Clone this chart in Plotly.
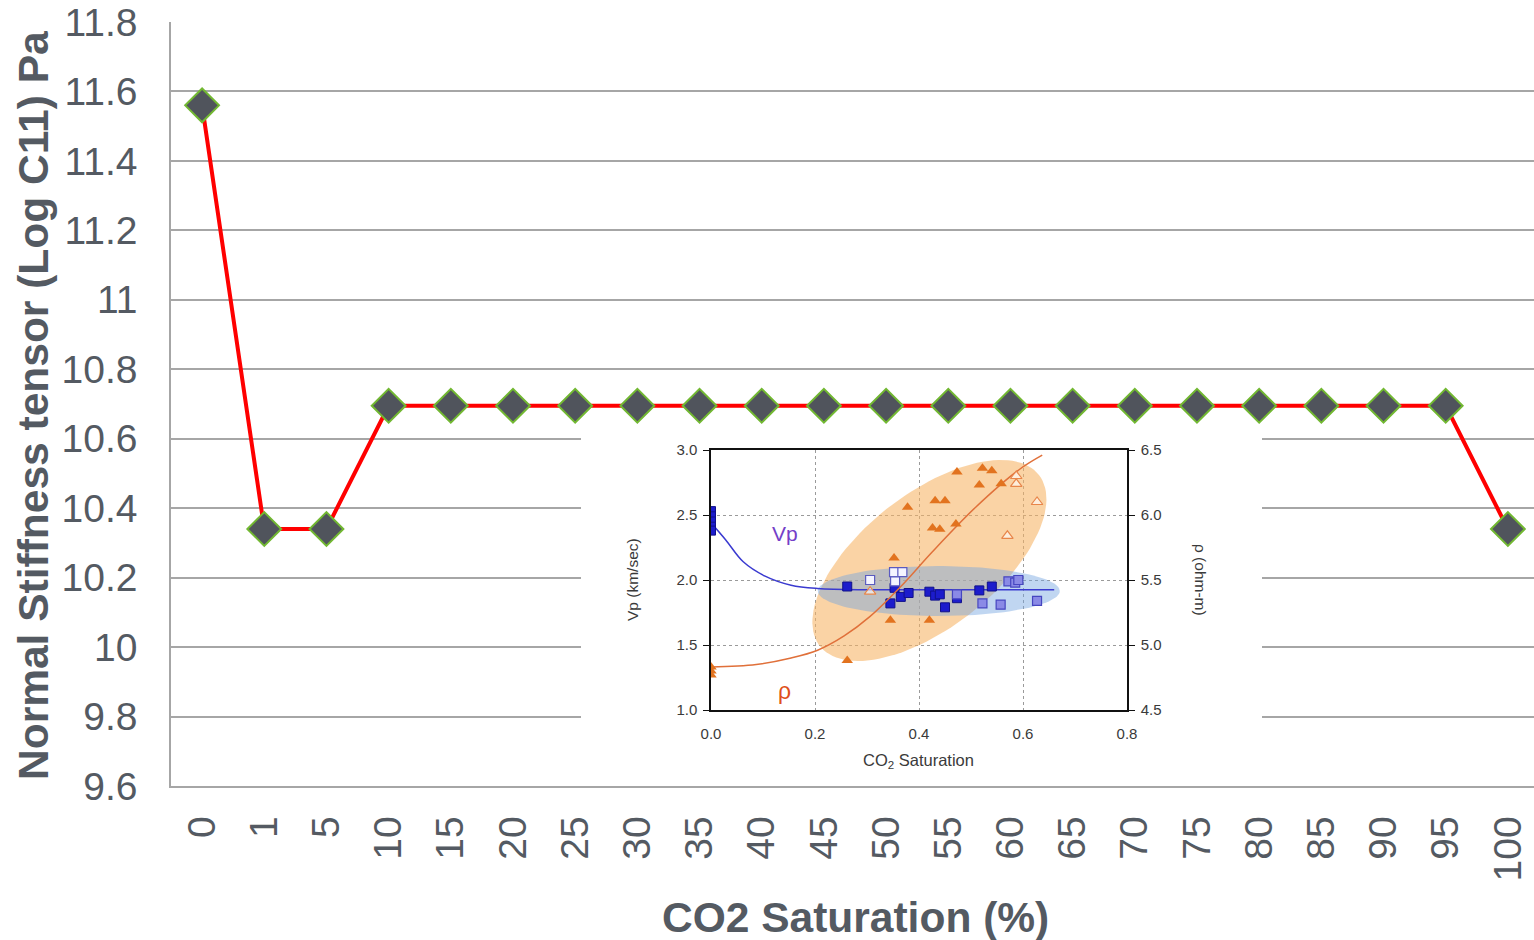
import numpy as np
import plotly.graph_objects as go

# ---------------- main chart data ----------------
categories = ["0", "1", "5", "10", "15", "20", "25", "30", "35", "40", "45", "50",
              "55", "60", "65", "70", "75", "80", "85", "90", "95", "100"]
stiffness = [11.56, 10.34, 10.34, 10.695, 10.695, 10.695, 10.695, 10.695, 10.695,
             10.695, 10.695, 10.695, 10.695, 10.695, 10.695, 10.695, 10.695, 10.695,
             10.695, 10.695, 10.695, 10.34]
y_ticks = [9.6, 9.8, 10, 10.2, 10.4, 10.6, 10.8, 11, 11.2, 11.4, 11.6, 11.8]
y_tick_text = ["9.6", "9.8", "10", "10.2", "10.4", "10.6", "10.8", "11", "11.2", "11.4", "11.6", "11.8"]

# ---------------- inset data ----------------
vp_curve_x = [0, 0.028, 0.062, 0.104, 0.154, 0.205, 0.3, 0.45, 0.66]
vp_curve_y = [2.44, 2.31, 2.14, 2.03, 1.96, 1.935, 1.925, 1.925, 1.925]
rho_curve_x = [0, 0.087, 0.154, 0.205, 0.256, 0.306, 0.365, 0.424, 0.509, 0.593, 0.637]
rho_curve_y = [4.83, 4.85, 4.90, 4.96, 5.07, 5.22, 5.45, 5.71, 6.06, 6.35, 6.46]

rho_filled_x = [0, 0, 0, 0.262, 0.345, 0.352, 0.378, 0.420, 0.426, 0.431, 0.440,
                0.450, 0.471, 0.473, 0.516, 0.522, 0.540, 0.558]
rho_filled_y = [4.83, 4.80, 4.77, 4.88, 5.19, 5.67, 6.06, 5.19, 5.90, 6.11, 5.89,
                6.11, 5.93, 6.33, 6.23, 6.36, 6.34, 6.24]
rho_open_x = [0.306, 0.570, 0.587, 0.587, 0.627]
rho_open_y = [5.41, 5.84, 6.30, 6.24, 6.10]

vp_dark_x = [0, 0, 0, 0, 0, 0.262, 0.353, 0.345, 0.365, 0.380, 0.420, 0.431, 0.440,
             0.450, 0.473, 0.516, 0.540]
vp_dark_y = [2.53, 2.49, 2.45, 2.41, 2.38, 1.95, 1.94, 1.82, 1.87, 1.90, 1.91, 1.88, 1.89,
             1.79, 1.86, 1.92, 1.95]
vp_light_x = [0.473, 0.522, 0.557, 0.627, 0.572, 0.585, 0.591]
vp_light_y = [1.89, 1.82, 1.81, 1.84, 1.99, 1.98, 2.00]
vp_open_x = [0.306, 0.352, 0.368, 0.354]
vp_open_y = [2.00, 2.06, 2.06, 1.99]

GRAY_TXT = "#545a62"
INSET_TXT = "#3a3a3a"
FONT = "Liberation Sans, Arial, sans-serif"

# plot-area geometry (pixels) used for paper coordinates
L, T, W, H = 171, 22, 1363, 764


def px_x(p):
    return (p - L) / W


def px_y(p):
    return (T + H - p) / H


def ellipse_xy(cx, cy, a_px, b_px, theta_deg, sx=520.0, sy=130.0, n=120):
    t = np.linspace(0, 2 * np.pi, n)
    th = np.radians(theta_deg)
    px = a_px * np.cos(t) * np.cos(th) - b_px * np.sin(t) * np.sin(th)
    py = a_px * np.cos(t) * np.sin(th) + b_px * np.sin(t) * np.cos(th)
    return cx + px / sx, cy + py / sy


fig = go.Figure()

# main series
fig.add_trace(go.Scatter(
    x=categories, y=stiffness, mode="lines+markers",
    line=dict(color="#ff0000", width=4),
    marker=dict(symbol="diamond", size=26, color="#50545c",
                line=dict(color="#72b832", width=2)),
    xaxis="x", yaxis="y", showlegend=False, cliponaxis=False,
))

# white panel behind the inset (overlay axes -> drawn above main gridlines)
panel_x = [px_x(581), px_x(1262), px_x(1262), px_x(581), px_x(581)]
panel_y = [0.003, 0.003, px_y(437), px_y(437), 0.003]
fig.add_trace(go.Scatter(x=panel_x, y=panel_y, mode="lines", fill="toself",
                         fillcolor="white", line=dict(width=0, color="white"),
                         xaxis="x3", yaxis="y4", showlegend=False, hoverinfo="skip"))

# inset ellipses
ex, ey = ellipse_xy(0.42, 2.15, 139, 67, 38)
fig.add_trace(go.Scatter(x=ex, y=ey, mode="lines", fill="toself",
                         fillcolor="rgba(247,180,100,0.58)", line=dict(width=0),
                         xaxis="x2", yaxis="y2", showlegend=False, hoverinfo="skip"))
bx, by = ellipse_xy(0.438, 1.915, 121, 25, 0)
fig.add_trace(go.Scatter(x=bx, y=by, mode="lines", fill="toself",
                         fillcolor="rgba(115,165,225,0.45)", line=dict(width=0),
                         xaxis="x2", yaxis="y2", showlegend=False, hoverinfo="skip"))

# inset traces
fig.add_trace(go.Scatter(x=vp_curve_x, y=vp_curve_y, mode="lines",
                         line=dict(color="#3a3ad0", width=1.5, shape="spline"),
                         xaxis="x2", yaxis="y2", showlegend=False))
fig.add_trace(go.Scatter(x=vp_dark_x, y=vp_dark_y, mode="markers",
                         marker=dict(symbol="square", size=9, color="#1c1ccc",
                                     line=dict(color="#10108a", width=1)),
                         xaxis="x2", yaxis="y2", showlegend=False))
fig.add_trace(go.Scatter(x=vp_light_x, y=vp_light_y, mode="markers",
                         marker=dict(symbol="square", size=9, color="#8a8ae6",
                                     line=dict(color="#4646c0", width=1.2)),
                         xaxis="x2", yaxis="y2", showlegend=False))
fig.add_trace(go.Scatter(x=vp_open_x, y=vp_open_y, mode="markers",
                         marker=dict(symbol="square", size=9, color="#f4f4ff",
                                     line=dict(color="#5a5ac0", width=1.2)),
                         xaxis="x2", yaxis="y2", showlegend=False))
fig.add_trace(go.Scatter(x=rho_curve_x, y=rho_curve_y, mode="lines",
                         line=dict(color="#e0703a", width=1.5, shape="spline"),
                         xaxis="x2", yaxis="y3", showlegend=False))
fig.add_trace(go.Scatter(x=rho_filled_x, y=rho_filled_y, mode="markers",
                         marker=dict(symbol="triangle-up", size=10, color="#e2731f",
                                     line=dict(width=0)),
                         xaxis="x2", yaxis="y3", showlegend=False))
fig.add_trace(go.Scatter(x=rho_open_x, y=rho_open_y, mode="markers",
                         marker=dict(symbol="triangle-up", size=10, color="rgba(255,255,255,0.6)",
                                     line=dict(color="#e8864a", width=1.2)),
                         xaxis="x2", yaxis="y3", showlegend=False))

annotations = [
    dict(text="<b>Normal Stiffness tensor (Log C11) Pa</b>", xref="paper", yref="paper",
         x=px_x(33), y=px_y(406), textangle=-90, showarrow=False,
         font=dict(family=FONT, size=42.5, color=GRAY_TXT), xanchor="center", yanchor="middle"),
    dict(text="<b>CO2 Saturation (%)</b>", xref="paper", yref="paper",
         x=px_x(855), y=px_y(918), showarrow=False,
         font=dict(family=FONT, size=42.5, color=GRAY_TXT), xanchor="center", yanchor="middle"),
    dict(text="Vp (km/sec)", xref="paper", yref="paper", x=px_x(632), y=px_y(580),
         textangle=-90, showarrow=False, font=dict(family=FONT, size=15.5, color=INSET_TXT),
         xanchor="center", yanchor="middle"),
    dict(text="ρ (ohm-m)", xref="paper", yref="paper", x=px_x(1201), y=px_y(580),
         textangle=90, showarrow=False, font=dict(family=FONT, size=15.5, color=INSET_TXT),
         xanchor="center", yanchor="middle"),
    dict(text="CO<sub>2</sub> Saturation", xref="paper", yref="paper", x=px_x(918), y=px_y(761),
         showarrow=False, font=dict(family=FONT, size=16.5, color=INSET_TXT),
         xanchor="center", yanchor="middle"),
    dict(text="Vp", xref="x2", yref="y2", x=0.142, y=2.36, showarrow=False,
         font=dict(family=FONT, size=21, color="#7440c8"), xanchor="center", yanchor="middle"),
    dict(text="ρ", xref="x2", yref="y2", x=0.142, y=1.15, showarrow=False,
         font=dict(family=FONT, size=23, color="#e0501a"), xanchor="center", yanchor="middle"),
]

fig.update_layout(
    width=1534, height=940,
    margin=dict(l=L, r=0, t=T, b=940 - T - H, pad=0, autoexpand=False),
    paper_bgcolor="white", plot_bgcolor="white",
    font=dict(family=FONT, color=GRAY_TXT),
    annotations=annotations,
    xaxis=dict(type="category", range=[-0.5, 21.42], domain=[0, 1], automargin=False,
               showgrid=False, showline=True, linecolor="#a6a6a6", linewidth=1.5,
               ticks="", tickangle=-90, tickfont=dict(size=39, color=GRAY_TXT),
               ticklabelstandoff=13, anchor="y"),
    yaxis=dict(range=[9.6, 11.8], tickvals=y_ticks, ticktext=y_tick_text, domain=[0, 1],
               automargin=False,
               showgrid=True, gridcolor="#a6a6a6", gridwidth=1.5,
               showline=True, linecolor="#a6a6a6", linewidth=1.5, zeroline=False,
               ticks="", tickfont=dict(size=39, color=GRAY_TXT), ticklabelstandoff=24,
               anchor="x"),
    xaxis3=dict(range=[0, 1], overlaying="x", visible=False, anchor="y4", automargin=False),
    yaxis4=dict(range=[0, 1], overlaying="y", visible=False, anchor="x3", automargin=False),
    xaxis2=dict(domain=[px_x(711), px_x(1127)], range=[0, 0.8], anchor="y2", automargin=False,
                tickvals=[0, 0.2, 0.4, 0.6, 0.8], tickformat=".1f",
                showgrid=True, gridcolor="#9a9a9a", griddash="dot", gridwidth=1,
                showline=True, mirror=True, linecolor="#111111", linewidth=1.5,
                zeroline=False, ticks="", ticklabelstandoff=9,
                tickfont=dict(size=15, color=INSET_TXT)),
    yaxis2=dict(domain=[px_y(710), px_y(450)], range=[1.0, 3.0], anchor="x2", automargin=False,
                tickvals=[1.0, 1.5, 2.0, 2.5, 3.0], tickformat=".1f",
                showgrid=True, gridcolor="#9a9a9a", griddash="dot", gridwidth=1,
                showline=True, linecolor="#111111", linewidth=1.5, zeroline=False,
                ticks="outside", ticklen=6, tickcolor="#111111", ticklabelstandoff=3,
                tickfont=dict(size=15, color=INSET_TXT)),
    yaxis3=dict(range=[4.5, 6.5], overlaying="y2", side="right", anchor="x2", automargin=False,
                tickvals=[4.5, 5.0, 5.5, 6.0, 6.5], tickformat=".1f",
                showgrid=False, showline=True, linecolor="#111111", linewidth=1.5,
                zeroline=False, ticks="outside", ticklen=6, tickcolor="#111111",
                ticklabelstandoff=3, tickfont=dict(size=15, color=INSET_TXT)),
)

fig.write_html("out.html")
